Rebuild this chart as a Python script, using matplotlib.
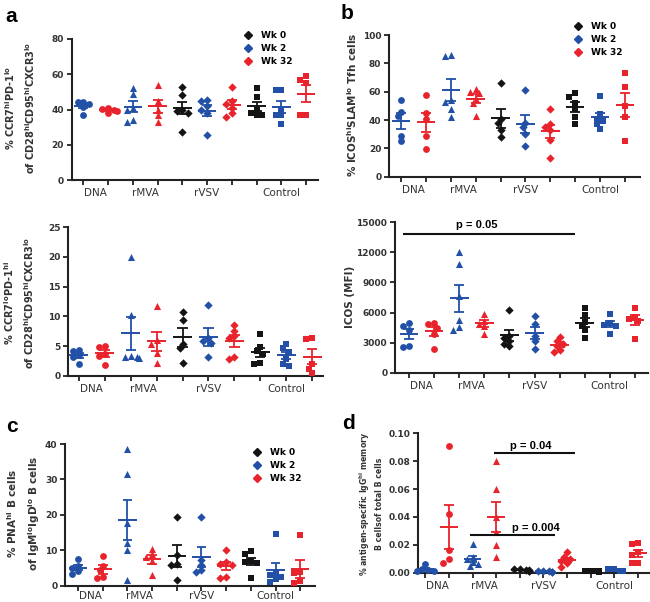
import numpy as np
import matplotlib
matplotlib.use("Agg")
import matplotlib.pyplot as plt
from matplotlib.lines import Line2D
from matplotlib.ticker import FormatStrFormatter

plt.rcParams['font.family'] = ['DejaVu Sans']
plt.rcParams['mathtext.default'] = 'regular'

# ---------------- data ----------------
groups = ["DNA", "rMVA", "rVSV", "Control"]
group_centers = [1.5, 3.5, 6, 9]
series_names = ["Wk 0", "Wk 2", "Wk 32"]
# column layout: DNA(wk2, wk32), rMVA(wk2, wk32), rVSV(wk0, wk2, wk32), Control(wk0, wk2, wk32)
col_series = ["Wk 2", "Wk 32", "Wk 2", "Wk 32", "Wk 0", "Wk 2", "Wk 32", "Wk 0", "Wk 2", "Wk 32"]
col_group = ["DNA", "DNA", "rMVA", "rMVA", "rVSV", "rVSV", "rVSV", "Control", "Control", "Control"]

a_top = [
    [44.5, 44, 43, 41.5, 37],
    [41, 40.5, 39.5, 39, 38],
    [52, 49, 41, 40, 34, 33],
    [54, 45, 40, 37, 33],
    [52.5, 48, 40, 39, 38, 27.5],
    [45.5, 45, 42, 40, 38, 25.5],
    [53, 45, 43, 41, 38, 36],
    [52, 47, 40, 38, 37, 37],
    [51, 51, 40, 37, 37, 32],
    [59, 57, 55, 37, 37],
]
b_top = [
    [54, 46, 43, 29, 25],
    [57.5, 45, 41, 29, 19.5],
    [86, 85, 54, 53, 48, 42],
    [62, 60, 59, 55, 52, 43],
    [66, 41, 38, 33, 28],
    [61, 38, 35, 30, 22],
    [47.5, 37.5, 35, 33, 26, 13.5],
    [59, 56.5, 52, 48, 42, 37],
    [57, 44, 41, 39, 37, 34],
    [73, 63, 50, 42, 25],
]
a_bottom = [
    [4.4, 4.2, 3.5, 3.2, 2.0],
    [5.0, 4.9, 3.6, 3.4, 1.8],
    [20, 10.2, 3.3, 3.1, 3.0, 3.2],
    [11.7, 6.0, 5.4, 3.9, 2.2],
    [10.8, 9.4, 5.4, 4.6, 2.2],
    [11.9, 6.3, 5.8, 5.5, 3.1],
    [8.5, 7.6, 6.7, 6.3, 3.2, 2.8],
    [7.0, 4.9, 4.1, 3.7, 2.2, 2.0],
    [5.4, 4.6, 4.0, 2.8, 2.0, 1.7],
    [6.3, 6.1, 2.0, 1.2, 0.5],
]
b_bottom = [
    [5000, 4650, 4250, 2650, 2600],
    [4990, 4850, 4500, 3900, 2350],
    [12000, 10800, 7600, 5300, 4600, 4300],
    [5900, 5200, 4900, 4700, 3900],
    [6300, 3700, 3500, 3200, 2900, 2700],
    [5700, 4900, 3700, 3200, 2400],
    [3600, 3200, 2900, 2700, 2300, 2100],
    [6500, 5800, 5100, 4700, 4300, 3500],
    [5900, 5000, 4800, 4700, 3900],
    [6500, 5600, 5400, 5200, 3400],
]
c_vals = [
    [7.4, 5.6, 5.0, 4.2, 3.4],
    [8.5, 5.6, 4.4, 2.4, 2.1],
    [38.5, 31.5, 17.8, 12, 10, 1.5],
    [10.5, 9.0, 8.0, 7.0, 3.0],
    [19.5, 8.8, 6.1, 5.8, 1.7],
    [19.5, 7.2, 5.8, 4.3, 4.0],
    [10.2, 6.6, 6.0, 5.8, 2.4, 2.2],
    [9.7, 9.0, 7.0, 6.8, 6.3, 2.3],
    [14.5, 3.6, 2.9, 2.5, 1.8, 1.1],
    [14.3, 3.8, 3.5, 1.2, 0.8],
]
d_vals = [
    [0.006, 0.003, 0.002, 0.0015, 0.0012],
    [0.091, 0.042, 0.016, 0.0095, 0.0068],
    [0.0205, 0.0115, 0.0095, 0.0078, 0.0062, 0.0045],
    [0.080, 0.060, 0.040, 0.029, 0.020, 0.011],
    [0.003, 0.0025, 0.002, 0.0018, 0.0015, 0.0012],
    [0.0015, 0.0012, 0.001, 0.0008, 0.0006],
    [0.015, 0.0115, 0.0096, 0.0084, 0.0067, 0.0043],
    [0.0013, 0.0012, 0.001, 0.001, 0.0009, 0.0008],
    [0.0028, 0.0025, 0.0015, 0.0012, 0.001],
    [0.021, 0.0205, 0.015, 0.0125, 0.0072, 0.0067],
]

# p-value annotations: (label, y, x_start, x_end, text_x)
b_bottom_p = [("p = 0.05", 13800, 0.76, 7.61, 3.7)]
d_p = [("p = 0.04", 0.0857, 3.92, 7.33, 5.46), ("p = 0.004", 0.0268, 2.87, 6.5, 5.67)]

# ---------------- style ----------------
colors = {"Wk 0": "#141414", "Wk 2": "#2150a6", "Wk 32": "#e8232c"}
markers = {"DNA": "o", "rMVA": "^", "rVSV": "D", "Control": "s"}
msize = {"o": 24, "^": 26, "D": 18, "s": 21}
AX = "#222222"

W, H = 650, 602
fig = plt.figure(figsize=(W / 100, H / 100), dpi=100)


def make_ax(left, right, top, bottom):
    return fig.add_axes([left / W, 1 - bottom / H, (right - left) / W, (bottom - top) / H])


def swarm_x(ax, x0, vals, diam):
    pts = []
    xs = np.zeros(len(vals))
    order = np.argsort(vals)[::-1]
    for idx in order:
        px, py = ax.transData.transform((x0, vals[idx]))
        for k in [0, -1, 1, -2, 2, -3, 3]:
            cx = px + k * diam * 0.5
            if all((cx - qx) ** 2 + (py - qy) ** 2 >= (diam * 0.85) ** 2 for qx, qy in pts):
                break
        pts.append((cx, py))
        xs[idx] = ax.transData.inverted().transform((cx, py))[0]
    return xs


def panel(ax, data, xlim, ylim, yticks, fmt=None, label_offset=-6):
    ax.set_xlim(*xlim)
    ax.set_ylim(*ylim)
    for s in ["top", "right"]:
        ax.spines[s].set_visible(False)
    for s in ["left", "bottom"]:
        ax.spines[s].set_linewidth(1.5)
        ax.spines[s].set_color(AX)
    ax.set_yticks(yticks)
    if fmt:
        ax.yaxis.set_major_formatter(FormatStrFormatter(fmt))
    ax.set_xticks(np.arange(1, 11))
    ax.set_xticklabels([])
    for g, gx in zip(groups, group_centers):
        ax.annotate(g, xy=(gx, 0), xycoords=("data", "axes fraction"), xytext=(0, label_offset),
                    textcoords="offset points", ha="center", va="top", fontsize=7.5,
                    color="#333333", annotation_clip=False)
    ax.tick_params(axis="x", which="major", length=3.5, width=1.3, color=AX)
    ax.tick_params(axis="y", length=3.5, width=1.3, color=AX, labelsize=6.5, pad=2)
    for lab in ax.get_yticklabels():
        lab.set_fontweight("bold")
        lab.set_color("#333333")
    for i, vals in enumerate(data):
        x0 = i + 1
        vals = np.asarray(vals, dtype=float)
        c = colors[col_series[i]]
        m = markers[col_group[i]]
        xs = swarm_x(ax, x0, vals, 5.8)
        ax.scatter(xs, vals, marker=m, s=msize[m], color=c, linewidths=0, zorder=3, clip_on=False)
        mean = vals.mean()
        sem = vals.std(ddof=1) / np.sqrt(len(vals))
        ax.hlines(mean, x0 - 0.37, x0 + 0.37, color=c, lw=1.4, zorder=4)
        ax.vlines(x0, mean - sem, mean + sem, color=c, lw=1.3, zorder=4)
        ax.hlines([mean - sem, mean + sem], x0 - 0.2, x0 + 0.2, color=c, lw=1.3, zorder=4)


def legend(ax, x, y):
    handles = [Line2D([], [], marker="D", ls="", color=colors[s], markersize=4.2) for s in series_names]
    ax.legend(handles, series_names, loc="upper left", bbox_to_anchor=(x / W, 1 - y / H),
              bbox_transform=fig.transFigure, frameon=False, prop=dict(weight="bold", size=6.5),
              handlelength=1.0, handletextpad=0.9, labelspacing=0.45, borderpad=0, borderaxespad=0)


def pvals(ax, items, dy):
    for lab, y, x1, x2, tx in items:
        ax.hlines(y, x1, x2, color="#111111", lw=1.5, zorder=5)
        ax.text(tx, y + dy, lab, ha="center", va="bottom", fontsize=8, fontweight="bold",
                family=["Liberation Sans", "DejaVu Sans"], zorder=6)


# ---- panel a (top) ----
ax1 = make_ax(71.7, 318, 39, 180)
panel(ax1, a_top, (0.53, 10.48), (0, 80), np.arange(0, 81, 20))
legend(ax1, 243.5, 31)

# ---- panel b (top) ----
ax2 = make_ax(389, 640, 35, 176.7)
panel(ax2, b_top, (0.52, 10.6), (0, 100), np.arange(0, 101, 20))
legend(ax2, 573.5, 22)

# ---- panel a (bottom) ----
ax3 = make_ax(68, 323, 227.3, 375.7)
panel(ax3, a_bottom, (0.58, 10.42), (0, 25), np.arange(0, 26, 5))

# ---- panel b (bottom) ----
ax4 = make_ax(395, 648, 222.3, 372.7)
panel(ax4, b_bottom, (0.44, 10.52), (0, 15000), np.arange(0, 15001, 3000))
pvals(ax4, b_bottom_p, 400)

# ---- panel c ----
ax5 = make_ax(65, 315, 444, 585.7)
panel(ax5, c_vals, (0.47, 10.6), (0, 40), np.arange(0, 41, 10), label_offset=-3.5)
legend(ax5, 252.5, 448)

# ---- panel d ----
ax6 = make_ax(418.3, 652, 433.3, 572.7)
panel(ax6, d_vals, (0.7, 10.6), (0, 0.1), np.arange(0, 0.101, 0.02), fmt="%.2f")
ax6.set_ylim(0, 0.1)
pvals(ax6, d_p, 0.0015)

# ---- y labels ----
fig.text(20 / W, 1 - 108 / H,
         r"% CCR7$^{\mathbf{hi}}$PD-1$^{\mathbf{lo}}$" + "\n" +
         r"of CD28$^{\mathbf{hi}}$CD95$^{\mathbf{hi}}$CXCR3$^{\mathbf{lo}}$",
         rotation=90, ha="center", va="center", fontsize=7, fontweight="bold",
         color="#333333", multialignment="center", linespacing=1.5)
fig.text(352 / W, 1 - 105 / H, r"% ICOS$^{\mathbf{hi}}$SLAM$^{\mathbf{lo}}$ Tfh cells",
         rotation=90, ha="center", va="center", fontsize=7.5, fontweight="bold", color="#333333")
fig.text(19 / W, 1 - 303 / H,
         r"% CCR7$^{\mathbf{lo}}$PD-1$^{\mathbf{hi}}$" + "\n" +
         r"of CD28$^{\mathbf{hi}}$CD95$^{\mathbf{hi}}$CXCR3$^{\mathbf{lo}}$",
         rotation=90, ha="center", va="center", fontsize=7, fontweight="bold",
         color="#333333", multialignment="center", linespacing=1.5)
fig.text(350 / W, 1 - 297 / H, "ICOS (MFI)", rotation=90, ha="center", va="center",
         fontsize=7.5, fontweight="bold", color="#333333")
fig.text(24 / W, 1 - 513 / H,
         r"% PNA$^{\mathbf{hi}}$ B cells" + "\n" + r"of IgM$^{\mathbf{lo}}$IgD$^{\mathbf{lo}}$ B cells",
         rotation=90, ha="center", va="center", fontsize=7.5, fontweight="bold",
         color="#333333", multialignment="center", linespacing=1.6)
fig.text(371 / W, 1 - 504 / H,
         r"% antigen-specific IgG$^{\mathbf{hi}}$ memory" + "\n" + "B cellsof total B cells",
         rotation=90, ha="center", va="center", fontsize=5.6, fontweight="bold",
         color="#333333", multialignment="center", linespacing=1.4)

# ---- panel letters ----
for lab, x, y in [("a", 5, 22), ("b", 341, 19), ("c", 6, 432), ("d", 342, 429)]:
    fig.text(x / W, 1 - y / H, lab, fontsize=15, fontweight="bold",
             family=["Liberation Sans", "DejaVu Sans"], ha="left", va="baseline")

fig.savefig("out.png", dpi=100)
